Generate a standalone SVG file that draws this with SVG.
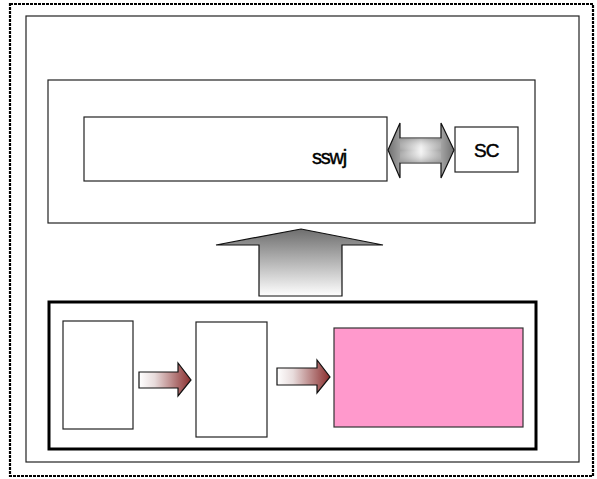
<svg xmlns="http://www.w3.org/2000/svg" width="597" height="479" viewBox="0 0 597 479">
<style>
.box{fill:#fff;stroke:#222;stroke-width:1.2}
.txt{font-family:"Liberation Sans",Arial,sans-serif;fill:#000;stroke:#000;stroke-width:0.45}
.arr{stroke:#111;stroke-width:1.2}
</style>
<defs>
<linearGradient id="gUp" x1="0" y1="0" x2="0" y2="1">
<stop offset="0" stop-color="#6e6e6e"/>
<stop offset="1" stop-color="#ffffff"/>
</linearGradient>
<linearGradient id="gRed" x1="0" y1="0" x2="1" y2="0">
<stop offset="0" stop-color="#ffffff"/>
<stop offset="0.3" stop-color="#e8dcdc"/>
<stop offset="1" stop-color="#8a2e2e"/>
</linearGradient>
<linearGradient id="gH" x1="0" y1="0" x2="1" y2="0">
<stop offset="0" stop-color="#707070"/>
<stop offset="0.5" stop-color="#f4f4f4"/>
<stop offset="1" stop-color="#707070"/>
</linearGradient>
<linearGradient id="gV" x1="0" y1="0" x2="0" y2="1">
<stop offset="0" stop-color="#888" stop-opacity="0.6"/>
<stop offset="0.5" stop-color="#fff" stop-opacity="0"/>
<stop offset="1" stop-color="#888" stop-opacity="0.6"/>
</linearGradient>
</defs>
<rect x="10" y="4" width="583" height="472" fill="none" stroke="#000" stroke-width="2.2" stroke-dasharray="3 1"/>
<g id="outer"><rect class="box" x="26" y="16" width="553" height="446"/></g>
<g id="upper"><rect class="box" x="48" y="80" width="487" height="143"/></g>
<g id="sswj"><rect class="box" x="84" y="117" width="303" height="64"/>
<text class="txt" x="312" y="164" font-size="20" letter-spacing="-1.2">sswj</text></g>
<g id="sc"><rect class="box" x="455" y="127" width="63" height="45"/>
<text class="txt" x="474" y="157" font-size="19" letter-spacing="-0.8">SC</text></g>
<g id="lower"><rect x="49" y="302" width="487" height="147" fill="#fff" stroke="#000" stroke-width="3"/></g>
<g id="box1"><rect class="box" x="63" y="321" width="70" height="108"/></g>
<g id="box2"><rect class="box" x="196" y="322" width="71" height="115"/></g>
<g id="pink"><rect x="334" y="328" width="189" height="99" fill="#ff99cc" stroke="#333" stroke-width="1.2"/></g>
<g id="connectors">
<path class="arr" fill="url(#gH)" d="M388,150 L400,123 L400,138 L441,138 L441,123 L454,150 L441,178 L441,163 L400,163 L400,178 Z"/>
<path fill="url(#gV)" d="M400,138 L441,138 L441,163 L400,163 Z"/>
<path class="arr" fill="url(#gUp)" d="M301,229 L383,245 L342,245 L342,296 L259,296 L259,245 L216,245 Z"/>
<path class="arr" fill="url(#gRed)" d="M139,372 L178,372 L178,363 L191,380 L178,396 L178,388 L139,388 Z"/>
<path class="arr" fill="url(#gRed)" d="M277,368 L317,368 L317,360 L330,377 L317,393 L317,385 L277,385 Z"/>
</g>
</svg>
